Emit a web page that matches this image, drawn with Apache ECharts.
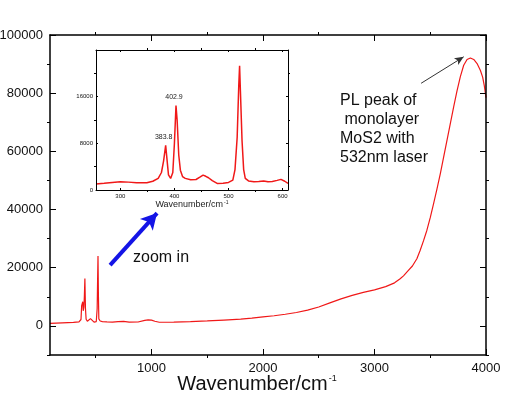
<!DOCTYPE html>
<html>
<head>
<meta charset="utf-8">
<script src="https://cdn.jsdelivr.net/npm/echarts@6/dist/echarts.min.js"></script>
<style>
  html, body { margin: 0; padding: 0; background: #fff; }
  #chart { width: 505px; height: 398px; }
</style>
</head>
<body>
<div id="chart"></div>
<script>
// full spectrum (main plot), wavenumber cm-1 / intensity
const mainWave = [90, 200, 300, 350, 368, 374, 378, 383.8, 388, 394, 398, 402.9, 408, 414, 425, 440, 453, 468, 485, 505, 513, 517, 520.5, 524, 528, 540, 560, 600, 650, 700, 750, 800, 880, 940, 970, 1000, 1030, 1070, 1200, 1350, 1500, 1650, 1800, 1900, 2000, 2100, 2200, 2300, 2400, 2500, 2600, 2700, 2800, 2900, 3000, 3100, 3180, 3230, 3260, 3300, 3340, 3380, 3410, 3440, 3470, 3500, 3530, 3560, 3590, 3620, 3650, 3680, 3710, 3740, 3770, 3800, 3830, 3860, 3890, 3920, 3950, 3970, 3985, 4000];
const mainInt = [900, 1050, 1200, 1400, 2200, 7000, 7600, 8300, 5200, 6500, 10000, 16300, 6000, 2300, 1600, 1800, 2500, 1900, 1300, 1500, 6000, 16000, 24000, 11000, 2400, 1700, 1500, 1400, 1300, 1450, 1550, 1300, 1350, 1900, 2100, 2000, 1600, 1250, 1300, 1450, 1700, 2000, 2300, 2650, 3100, 3500, 4000, 4600, 5400, 6500, 7900, 9300, 10500, 11500, 12400, 13500, 14800, 16200, 17200, 18900, 20600, 23100, 26000, 29300, 32900, 37200, 42000, 47000, 52300, 58000, 63800, 69500, 75300, 80800, 85700, 89600, 91600, 92100, 91600, 90200, 87800, 85500, 82500, 78500];

// zoomed raman region (inset)
const insetWave = [255, 270, 285, 300, 315, 330, 349, 360, 370, 376, 380, 383.8, 386, 389, 393, 397, 400, 402.9, 405, 408, 411, 415, 420, 430, 440, 447, 453, 458, 463, 470, 479, 490, 500, 508, 512, 516, 519, 520.5, 522, 525, 528, 531, 537, 547, 556, 565, 573, 581, 590, 597, 604, 610];
const insetInt = [1020, 1150, 1300, 1410, 1350, 1250, 1240, 1500, 2000, 3000, 5000, 7660, 5500, 2600, 1990, 3000, 8000, 14470, 12000, 6000, 3400, 2300, 1990, 1750, 1800, 2200, 2550, 2350, 2100, 1600, 1130, 1150, 1300, 1700, 3500, 9000, 18000, 21280, 17000, 8500, 3500, 1990, 1550, 1400, 1450, 1560, 1400, 1470, 1650, 1820, 1500, 1130];
const insetPeaks = [383.8, 402.9];

// tick labels
const mainXLabels = [1000, 2000, 3000, 4000];
const mainXMinor = [500, 1500, 2500, 3500];
const mainYLabels = [0, 20000, 40000, 60000, 80000, 100000];
const mainYMinor = [-10000, 10000, 30000, 50000, 70000, 90000];
const insetXLabels = [300, 400, 500, 600];
const insetXMinor = [350, 450, 550];
const insetYLabels = [0, 8000, 16000];
const insetYMajor = [0, 8000, 16000, 24000];
const insetYMinor = [4000, 12000, 20000];

const zoomArrow = [[629, 20900], [1050, 38800]];
const peakArrow = [[3418, 83400], [3800, 92500]];
const peakNote = 'PL peak of\n monolayer\nMoS2 with\n532nm laser';

const font = '"Liberation Sans", Arial, sans-serif';

function pairs(xs, ys) {
  return xs.map((x, i) => [x, ys[i]]);
}

// one axis: either major (inside, maybe labelled) or minor (outside, no labels)
function makeAxis(grid, position, min, max, ticks, inside, len, labels, labelSize, extra) {
  return Object.assign({
    type: 'value',
    gridIndex: grid,
    position: position,
    min: min,
    max: max,
    z: 10,
    splitLine: { show: false },
    axisLine: { show: inside, onZero: false, lineStyle: { color: '#000', width: grid === 0 ? 1.5 : 1 } },
    axisTick: { show: true, inside: inside, length: len, customValues: ticks, lineStyle: { color: '#000', width: 1 } },
    axisLabel: labels ? {
      show: true, customValues: labels, fontFamily: font, fontSize: labelSize,
      color: '#111', margin: grid === 0 ? 7 : 3,
      formatter: v => String(v)
    } : { show: false }
  }, extra || {});
}

const xAxes = [
  makeAxis(0, 'bottom', 90, 4000, mainXLabels, true, 6, mainXLabels, 13, {
    name: 'Wavenumber/cm{sup|-1}',
    nameLocation: 'middle',
    nameGap: 19,
    nameMoveOverlap: false,
    nameTextStyle: {
      fontFamily: font, fontSize: 20, color: '#111', padding: [0, 22, 0, 0],
      rich: { sup: { fontFamily: font, fontSize: 9, verticalAlign: 'top', padding: [0, 0, 10, 1] } }
    }
  }),
  makeAxis(0, 'bottom', 90, 4000, mainXMinor, false, 3),
  makeAxis(0, 'top', 90, 4000, mainXLabels, true, 6),
  makeAxis(0, 'top', 90, 4000, mainXMinor, false, 3),
  makeAxis(1, 'bottom', 255, 610, insetXLabels, true, 2, insetXLabels, 6, {
    name: 'Wavenumber/cm{sup|-1}',
    nameLocation: 'middle',
    nameGap: 9,
    nameTextStyle: {
      fontFamily: font, fontSize: 9, color: '#222',
      rich: { sup: { fontFamily: font, fontSize: 5, verticalAlign: 'top', padding: [0, 0, 4, 1] } }
    }
  }),
  makeAxis(1, 'bottom', 255, 610, insetXMinor, false, 2),
  makeAxis(1, 'top', 255, 610, insetXLabels, true, 2),
  makeAxis(1, 'top', 255, 610, insetXMinor, false, 2)
];

const yAxes = [
  makeAxis(0, 'left', -10000, 100000, mainYLabels, true, 6, mainYLabels, 13),
  makeAxis(0, 'left', -10000, 100000, mainYMinor, false, 3),
  makeAxis(0, 'right', -10000, 100000, mainYLabels, true, 6),
  makeAxis(0, 'right', -10000, 100000, mainYMinor, false, 3),
  makeAxis(1, 'left', 0, 24000, insetYMajor, true, 2, insetYLabels, 6),
  makeAxis(1, 'left', 0, 24000, insetYMinor, false, 2),
  makeAxis(1, 'right', 0, 24000, insetYMajor, true, 2),
  makeAxis(1, 'right', 0, 24000, insetYMinor, false, 2)
];

const chart = echarts.init(document.getElementById('chart'));

const option = {
  animation: false,
  backgroundColor: '#fff',
  grid: [
    { left: 50, top: 35, width: 436, height: 320, containLabel: false, outerBoundsMode: 'none' },
    { left: 96, top: 50, width: 192, height: 140, containLabel: false, outerBoundsMode: 'none',
      show: true, backgroundColor: '#fff', borderWidth: 0 }
  ],
  xAxis: xAxes,
  yAxis: yAxes,
  series: [
    {
      name: 'spectrum',
      type: 'line',
      xAxisIndex: 0,
      yAxisIndex: 0,
      showSymbol: false,
      lineStyle: { color: '#f01818', width: 1.2 },
      data: pairs(mainWave, mainInt),
      markLine: {
        silent: true,
        animation: false,
        label: { show: false },
        data: [
          [
            { coord: zoomArrow[0], symbol: 'none', lineStyle: { color: '#1414e6', width: 4, type: 'solid' } },
            { coord: zoomArrow[1], symbol: 'arrow', symbolSize: [13, 16] }
          ],
          [
            { coord: peakArrow[0], symbol: 'none', lineStyle: { color: '#333', width: 1, type: 'solid' } },
            { coord: peakArrow[1], symbol: 'arrow', symbolSize: [6, 9] }
          ]
        ]
      }
    },
    {
      name: 'inset',
      type: 'line',
      xAxisIndex: 4,
      yAxisIndex: 4,
      showSymbol: false,
      z: 6,
      lineStyle: { color: '#f01818', width: 1.5 },
      data: pairs(insetWave, insetInt),
      markPoint: {
        symbol: 'circle',
        symbolSize: 0,
        label: {
          show: true, position: 'top', distance: 5, offset: [-2, 0],
          fontFamily: font, fontSize: 7, color: '#222',
          formatter: p => p.name
        },
        data: insetPeaks.map(w => ({ name: w.toFixed(1), coord: [w, insetInt[insetWave.indexOf(w)]] }))
      }
    }
  ],
  graphic: [
    {
      type: 'text', left: 133, top: 250,
      style: { text: 'zoom in', fontFamily: font, fontSize: 16, fill: '#111' }
    },
    {
      type: 'text', left: 340, top: 91,
      style: { text: peakNote, fontFamily: font, fontSize: 16, lineHeight: 19, fill: '#111' }
    }
  ]
};

chart.setOption(option);
</script>
</body>
</html>
